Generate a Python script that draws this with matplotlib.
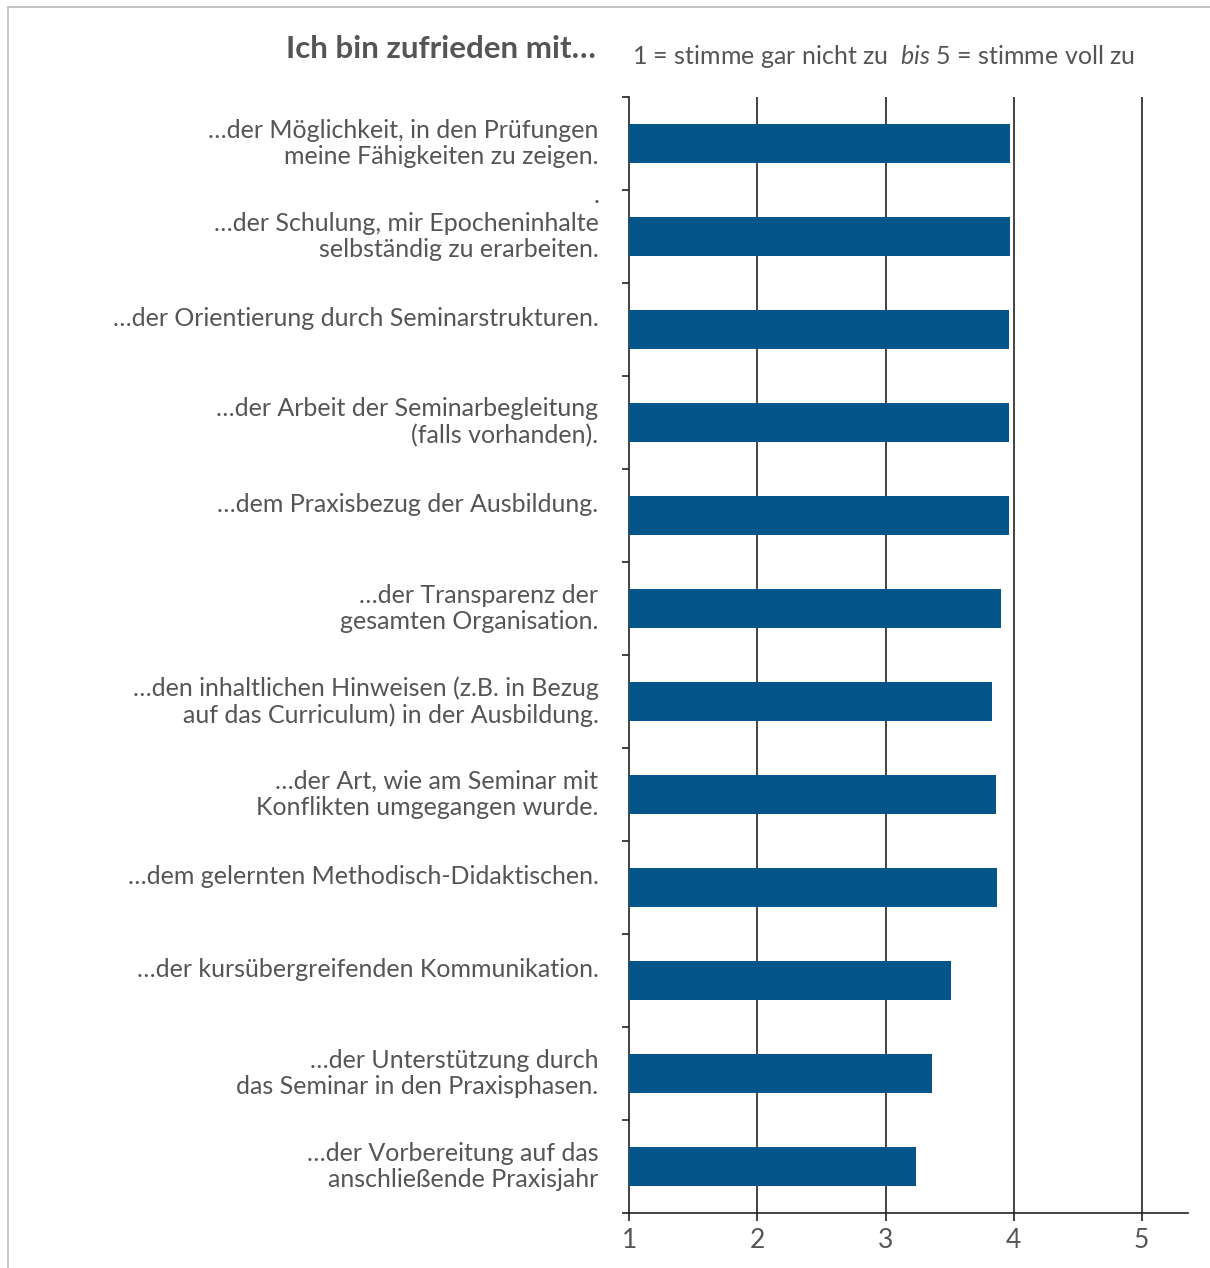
import matplotlib
matplotlib.use("Agg")
import matplotlib.pyplot as plt
from matplotlib.lines import Line2D
import matplotlib.transforms as mtransforms

categories = [
    "…der Möglichkeit, in den Prüfungen\nmeine Fähigkeiten zu zeigen.",
    "…der Schulung, mir Epocheninhalte\nselbständig zu erarbeiten.",
    "…der Orientierung durch Seminarstrukturen.",
    "…der Arbeit der Seminarbegleitung\n(falls vorhanden).",
    "…dem Praxisbezug der Ausbildung.",
    "…der Transparenz der\ngesamten Organisation.",
    "…den inhaltlichen Hinweisen (z.B. in Bezug\nauf das Curriculum) in der Ausbildung.",
    "…der Art, wie am Seminar mit\nKonflikten umgegangen wurde.",
    "…dem gelernten Methodisch-Didaktischen.",
    "…der kursübergreifenden Kommunikation.",
    "…der Unterstützung durch\ndas Seminar in den Praxisphasen.",
    "…der Vorbereitung auf das\nanschließende Praxisjahr",
]
values = [3.97, 3.97, 3.965, 3.965, 3.965, 3.90, 3.83, 3.86, 3.87, 3.51, 3.36, 3.24]
xticks = [1, 2, 3, 4, 5]
xtick_labels = ["1", "2", "3", "4", "5"]
title_left = "Ich bin zufrieden mit…"
title_right = r"1 = stimme gar nicht zu  $\mathit{bis}$ 5 = stimme voll zu"

FONT = "Lato"
plt.rcParams["font.family"] = [FONT, "DejaVu Sans"]
plt.rcParams["mathtext.fontset"] = "custom"
plt.rcParams["mathtext.it"] = FONT + ":italic"
plt.rcParams["mathtext.rm"] = FONT

TXT = "#555555"
BAR = "#04558a"
LINE = "#222222"

W, H = 1210, 1268
fig = plt.figure(figsize=(W / 100, H / 100), dpi=100)
fig.patch.set_facecolor("white")

ax_l, ax_r = 629.4 / W, 1188.4 / W
ax_t, ax_b = 1 - 97 / H, 1 - 1213 / H
ax = fig.add_axes([ax_l, ax_b, ax_r - ax_l, ax_t - ax_b])

n = len(categories)
ypos = list(range(n))
ax.barh(ypos, [v - 1 for v in values], left=1, height=0.41, color=BAR, zorder=3)

ax.set_xlim(1, 5.365)
ax.set_ylim(n - 0.5, -0.5)

for x in xticks[1:]:
    ax.axvline(x, color=LINE, lw=1.2, zorder=2)

for s in ["top", "right"]:
    ax.spines[s].set_visible(False)
for s in ["left", "bottom"]:
    ax.spines[s].set_color(LINE)
    ax.spines[s].set_linewidth(1.2)

ax.set_xticks(xticks)
ax.set_xticklabels(xtick_labels, fontsize=19, color=TXT)
ax.tick_params(axis="x", direction="out", length=6, width=1.2, color=LINE, pad=5)

bounds = [i + 0.5 for i in range(-1, n)]
ax.set_yticks(bounds)
ax.set_yticklabels([])
ax.tick_params(axis="y", direction="out", length=5, width=1.2, color=LINE)

trans = mtransforms.blended_transform_factory(ax.transAxes, ax.transData)
xl = -31 / (1188.4 - 629.4)
for i, lab in enumerate(categories):
    y = i if "\n" in lab else i - 0.12
    ax.text(xl, y, lab, transform=trans, ha="right", va="center",
            fontsize=18, color=TXT, linespacing=1.2)
ax.text(xl + 0.002, 0.56, ".", transform=trans, ha="right", va="center",
        fontsize=18, color=TXT)

fig.text(596 / W, 1 - 49 / H, title_left, ha="right", va="center",
         fontsize=22.5, fontweight="bold", color=TXT)
fig.text(632 / W, 1 - 56 / H, title_right, ha="left", va="center",
         fontsize=18, color=TXT)

fc = "#bbbbbb"
fig.add_artist(Line2D([8 / W, 1.0], [1 - 7 / H, 1 - 7 / H], transform=fig.transFigure, color=fc, lw=1.2))
fig.add_artist(Line2D([8 / W, 8 / W], [0, 1 - 7 / H], transform=fig.transFigure, color=fc, lw=1.2))

fig.savefig("out.png", dpi=100, facecolor="white")
